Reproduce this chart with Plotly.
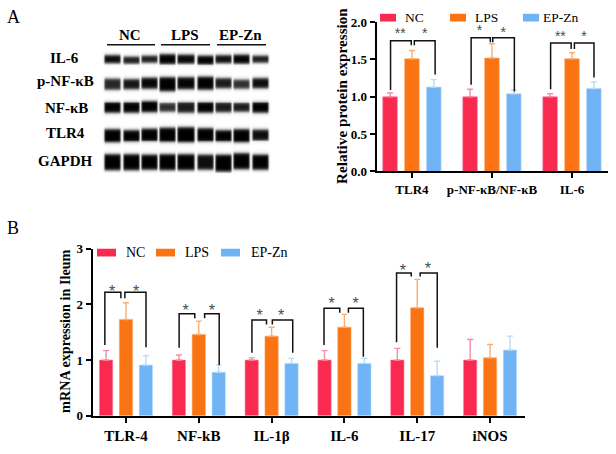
import numpy as np
import plotly.graph_objects as go

W, H = 616, 454
SERIES = ["NC", "LPS", "EP-Zn"]
COLORS = ["#f9294f", "#fa7413", "#70b4f6"]
ERR_COLORS = ["#fb8aa3", "#fbae72", "#b5dcfb"]

# Panel A
a_cats = ["TLR4", "p-NF-κB/NF-κB", "IL-6"]
a_nc = [1.00, 1.00, 1.00]
a_lps = [1.51, 1.52, 1.51]
a_ep = [1.13, 1.04, 1.11]
a_nc_err = [0.05, 0.10, 0.04]
a_lps_err = [0.11, 0.19, 0.08]
a_ep_err = [0.10, 0.05, 0.09]
# [x-left, x-inner, y-leg, y-inner, y-top] per bracket, per category
a_brackets = [
    [(-0.267, -0.008, 1.09, 1.69, 1.75), (0.29, 0.03, 1.30, 1.69, 1.75)],
    [(-0.26, -0.02, 1.16, 1.73, 1.79), (0.28, 0.01, 1.07, 1.73, 1.79)],
    [(-0.267, -0.01, 1.10, 1.64, 1.72), (0.275, 0.03, 1.26, 1.64, 1.72)],
]
a_stars = [
    [(-0.145, "**", 1.83), (0.16, "*", 1.83)],
    [(-0.155, "*", 1.88), (0.14, "*", 1.85)],
    [(-0.145, "**", 1.80), (0.15, "*", 1.80)],
]

# Panel B
b_cats = ["TLR-4", "NF-kB", "IL-1β", "IL-6", "IL-17", "iNOS"]
b_nc = [1.00, 1.00, 1.00, 1.00, 1.00, 1.00]
b_lps = [1.73, 1.46, 1.43, 1.59, 1.94, 1.04]
b_ep = [0.91, 0.78, 0.94, 0.94, 0.72, 1.18]
b_nc_err = [0.17, 0.09, 0.04, 0.17, 0.21, 0.37]
b_lps_err = [0.30, 0.24, 0.16, 0.23, 0.51, 0.24]
b_ep_err = [0.17, 0.13, 0.09, 0.09, 0.26, 0.25]
b_brackets = [
    [(-0.29, -0.07, 1.27, 2.11, 2.22), (0.275, -0.015, 1.23, 2.11, 2.22)],
    [(-0.27, -0.055, 1.22, 1.75, 1.83), (0.28, 0.08, 0.91, 1.75, 1.83)],
    [(-0.27, -0.07, 1.13, 1.64, 1.72), (0.29, 0.01, 1.13, 1.64, 1.72)],
    [(-0.28, -0.064, 1.27, 1.85, 1.93), (0.26, 0.055, 1.06, 1.85, 1.93)],
    [(-0.284, -0.083, 1.32, 2.50, 2.565), (0.275, 0.04, 1.22, 2.50, 2.565)],
]
b_stars = [
    [(-0.19, 2.21), (0.14, 2.21)],
    [(-0.18, 1.87), (0.18, 1.87)],
    [(-0.165, 1.77), (0.13, 1.77)],
    [(-0.175, 1.99), (0.155, 1.99)],
    [(-0.197, 2.59), (0.145, 2.61)],
]

# Blot: band heights by row (top to bottom), lane order NC×3, LPS×3, EP-Zn×3
blot_rows = ["IL-6", "p-NF-κB", "NF-κB", "TLR4", "GAPDH"]
blot_row_pos = [53, 78, 103, 131, 159]
blot_heights = [
    [8, 7, 7, 10, 9, 9, 8, 9, 7],
    [11, 10, 11, 14, 12, 13, 10, 9, 10],
    [11, 11, 12, 9, 11, 11, 10, 9, 11],
    [14, 12, 13, 15, 16, 14, 12, 14, 11],
    [16, 16, 15, 16, 16, 15, 17, 16, 15],
]
blot_shift = [
    [0, 1, 0, 0, 0, 1, 0, 0, 0],
    [1, 1, 0, 1, 0, 0, 0, 1, 0],
    [0, 0, -1, 0, 0, 0, 0, 0, 0],
    [1, 1, 0, 0, 0, 0, 1, 1, 0],
    [0, 0, 0, 0, 0, 0, 1, -1, 0],
]
blot_dark = [
    [0.98, 0.9, 0.9, 1.0, 0.98, 1.0, 0.95, 1.0, 0.9],
    [0.85, 0.92, 0.98, 1.0, 0.98, 1.0, 0.9, 0.82, 0.95],
    [1.0, 1.0, 1.0, 0.82, 0.9, 1.0, 0.9, 0.9, 1.0],
    [1.0, 1.0, 1.0, 1.0, 1.0, 1.0, 1.0, 1.0, 0.95],
    [1.0, 1.0, 1.0, 1.0, 1.0, 0.95, 1.0, 1.0, 1.0],
]
blot_lanes = [112, 131, 149, 167, 185, 204, 222, 240, 259]


def px(x):
    return x / W


def py(y):
    return 1 - y / H


blot_x = np.arange(100, 272.0, 1.0)
blot_y = np.arange(40, 172.0, 1.0)
xx, yy = np.meshgrid(blot_x, blot_y)
blot_z = np.zeros_like(xx)
for r, c in enumerate(blot_row_pos):
    for l, lane in enumerate(blot_lanes):
        hw = 8.0
        hh = blot_heights[r][l] / 2
        cy = c + blot_shift[r][l]
        fx = 1 / (1 + np.exp((np.abs(xx - lane) - hw) / 0.5))
        fy = 1 / (1 + np.exp((np.abs(yy - cy) - hh) / 0.9))
        blot_z = np.maximum(blot_z, blot_dark[r][l] * fx * fy)

fig = go.Figure()
fig.add_trace(go.Heatmap(
    x=blot_x, y=blot_y, z=blot_z, xaxis="x3", yaxis="y3", zmin=0, zmax=1,
    colorscale=[[0, "#ffffff"], [1, "#000000"]], showscale=False, zsmooth="best", hoverinfo="skip",
))


def add_panel(cats, vals, errs, xa, ya):
    x = list(range(len(cats)))
    for s, name in enumerate(SERIES):
        fig.add_trace(go.Bar(
            x=x, y=vals[s], name=name, xaxis=xa, yaxis=ya, showlegend=False,
            marker=dict(color=COLORS[s], line=dict(color=ERR_COLORS[s], width=0.6)),
            error_y=dict(type="data", array=errs[s], arrayminus=[0] * len(x), symmetric=False,
                         color=ERR_COLORS[s], thickness=1.4, width=3),
        ))


def add_brackets(brackets, xa, ya, lw):
    for i, pair in enumerate(brackets):
        for outer, inner, leg, yin, top in pair:
            fig.add_trace(go.Scatter(
                x=[i + outer, i + outer, i + inner, i + inner],
                y=[leg, top, top, yin], mode="lines", xaxis=xa, yaxis=ya,
                line=dict(color="#111111", width=lw), showlegend=False, hoverinfo="skip",
            ))


add_panel(a_cats, [a_nc, a_lps, a_ep], [a_nc_err, a_lps_err, a_ep_err], "x", "y")
add_panel(b_cats, [b_nc, b_lps, b_ep], [b_nc_err, b_lps_err, b_ep_err], "x2", "y2")
add_brackets(a_brackets, "x", "y", 1.5)
add_brackets(b_brackets, "x2", "y2", 1.5)

STAR_FONT = dict(family="Liberation Sans", size=14, color="#44504f")
for i, pair in enumerate(a_stars):
    for off, t, y in pair:
        fig.add_trace(go.Scatter(x=[i + off], y=[y], text=[t], mode="text", xaxis="x", yaxis="y",
                                 textfont=STAR_FONT, textposition="middle center",
                                 showlegend=False, hoverinfo="skip"))
for i, pair in enumerate(b_stars):
    for off, y in pair:
        fig.add_trace(go.Scatter(x=[i + off], y=[y], text=["*"], mode="text", xaxis="x2", yaxis="y2",
                                 textfont=dict(family="Liberation Sans", size=16, color="#44504f"),
                                 textposition="middle center", showlegend=False, hoverinfo="skip"))

SERIF = "Liberation Serif"
ann = []
shapes = []


def text(x, y, t, size, bold=True, **kw):
    ann.append(dict(x=px(x), y=py(y), xref="paper", yref="paper", text=f"<b>{t}</b>" if bold else t,
                    showarrow=False, font=dict(family=SERIF, size=size, color="#000000"),
                    xanchor=kw.get("xanchor", "center"), yanchor="middle", textangle=kw.get("angle", 0)))


text(13, 10, "A", 18, bold=False)
text(13, 229, "B", 18, bold=False)
text(130, 29, "NC", 15)
text(185, 29, "LPS", 15)
text(240, 29, "EP-Zn", 15)
for x0, x1 in [(107, 155), (161, 210), (217, 266)]:
    shapes.append(dict(type="line", xref="paper", yref="paper", x0=px(x0), x1=px(x1),
                       y0=py(39), y1=py(39), line=dict(color="#111111", width=1.5)))
for name, y, x in zip(blot_rows, [53, 77, 104, 130, 159], [64, 65, 66, 65, 65]):
    text(x, y, name, 15)

text(342, 92, "Relative protein expression", 15.2, angle=-90)
text(65, 336, "mRNA expression in Ileum", 14.2, angle=-90)

for s, (x0, tx) in enumerate(zip([380, 450, 523], [414, 486, 560])):
    shapes.append(dict(type="rect", xref="paper", yref="paper", x0=px(x0), x1=px(x0 + 16), y0=py(15), y1=py(7),
                       fillcolor=COLORS[s], line_width=0))
    text(tx, 11, SERIES[s], 13.5, bold=False)
for s, (x0, tx) in enumerate(zip([97, 156, 221], [135, 197, 269])):
    shapes.append(dict(type="rect", xref="paper", yref="paper", x0=px(x0), x1=px(x0 + 19), y0=py(258), y1=py(250),
                       fillcolor=COLORS[s], line_width=0))
    text(tx, 254, SERIES[s], 14, bold=False)

A_FONT = dict(family=SERIF, size=13, color="#000000")
B_FONT = dict(family=SERIF, size=15, color="#000000")
common = dict(showgrid=False, zeroline=False, showline=True, linecolor="#000000", ticks="outside",
              ticklen=5, tickcolor="#000000", linewidth=2.2, tickwidth=2.2)

fig.update_layout(
    width=W, height=H, margin=dict(l=0, r=0, t=0, b=0), autosize=False,
    paper_bgcolor="#ffffff", plot_bgcolor="rgba(0,0,0,0)",
    barmode="group", bargap=0.18, bargroupgap=0.33,
    annotations=ann, shapes=shapes,
    xaxis=dict(domain=[px(376.7), px(608)], anchor="y", range=[-0.44, 2.45], tickvals=[0, 1, 2],
               ticktext=[f"<b>{c}</b>" for c in a_cats], tickfont=A_FONT, **common),
    yaxis=dict(domain=[py(170), py(15.7)], anchor="x", range=[0, 2], tickvals=[0, 0.5, 1, 1.5, 2],
               ticktext=["<b>0.0</b>", "<b>0.5</b>", "<b>1.0</b>", "<b>1.5</b>", "<b>2.0</b>"],
               tickfont=A_FONT, **common),
    xaxis2=dict(domain=[px(92.7), px(525)], anchor="y2", range=[-0.457, 5.48], tickvals=list(range(6)),
                ticktext=[f"<b>{c}</b>" for c in b_cats], tickfont=B_FONT, **common),
    yaxis2=dict(domain=[py(422.7), py(250)], anchor="x2", range=[0, 3], tickvals=[0, 1, 2, 3],
                ticktext=["<b>0</b>", "<b>1</b>", "<b>2</b>", "<b>3</b>"], tickfont=A_FONT, **common),
    xaxis3=dict(domain=[px(100), px(272)], anchor="y3", visible=False, range=[100, 271]),
    yaxis3=dict(domain=[py(172), py(40)], anchor="x3", visible=False, range=[171, 40]),
)
fig.write_html("out.html", config=dict(displayModeBar=False), post_script="document.body.style.margin='0';")
